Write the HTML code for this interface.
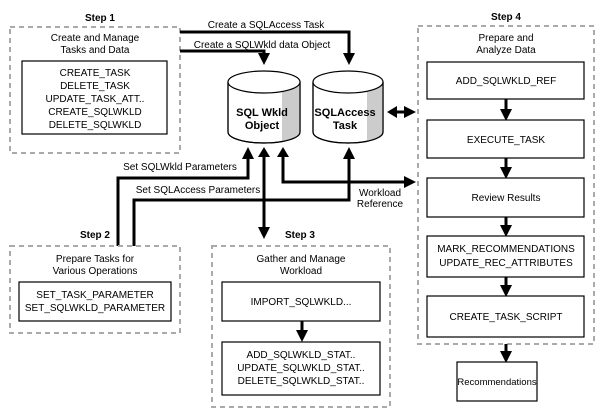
<!DOCTYPE html>
<html><head><meta charset="utf-8"><style>
html,body{margin:0;padding:0;background:#fff}
svg{display:block}
text{font-family:"Liberation Sans",sans-serif;font-size:10px;fill:#000}
.b{font-weight:bold}
.d{fill:none;stroke:#aaa;stroke-width:2;stroke-dasharray:5,4}
.r{fill:#fff;stroke:#000;stroke-width:1.2}
.l{fill:none;stroke:#000;stroke-width:3}
</style></head><body>
<svg width="604" height="410" viewBox="0 0 604 410">
<defs><marker id="a" markerWidth="4" markerHeight="4" refX="3" refY="2" orient="auto" markerUnits="strokeWidth"><path d="M0,0 L4,2 L0,4 z" fill="#000"/></marker></defs>
<!-- Step 1 -->
<text x="100" y="21" class="b" text-anchor="middle">Step 1</text>
<rect class="d" x="10" y="27" width="170" height="126"/>
<text x="95" y="41" text-anchor="middle">Create and Manage</text>
<text x="95" y="53" text-anchor="middle">Tasks and Data</text>
<rect class="r" x="22" y="61" width="145" height="73"/>
<text x="95" y="76" text-anchor="middle">CREATE_TASK</text>
<text x="95" y="89" text-anchor="middle">DELETE_TASK</text>
<text x="95" y="102" text-anchor="middle">UPDATE_TASK_ATT..</text>
<text x="95" y="115" text-anchor="middle">CREATE_SQLWKLD</text>
<text x="95" y="128" text-anchor="middle">DELETE_SQLWKLD</text>
<!-- top connectors -->
<polyline class="l" points="180,32 349,32 349,62" marker-end="url(#a)"/>
<polyline class="l" points="180,51 264,51 264,62" marker-end="url(#a)"/>
<text x="266" y="28" text-anchor="middle">Create a SQLAccess Task</text>
<text x="262" y="48" text-anchor="middle">Create a SQLWkld data Object</text>
<!-- cylinders -->
<g>
<path d="M228,82 L228,132 A36,11 0 0 0 300,132 L300,82" fill="#fff" stroke="#000" stroke-width="1.2"/>
<path d="M282,91 L282,142 A36,11 0 0 0 299,135 L299,84 A36,11 0 0 1 282,91z" fill="#ccc"/>
<path d="M228,82 L228,132 A36,11 0 0 0 300,132 L300,82" fill="none" stroke="#000" stroke-width="1.2"/>
<ellipse cx="264" cy="82" rx="36" ry="11" fill="#fff" stroke="#000" stroke-width="1.2"/>
<text x="262" y="116" class="b" text-anchor="middle" style="font-size:11px">SQL Wkld</text>
<text x="262" y="129" class="b" text-anchor="middle" style="font-size:11px">Object</text>
</g>
<g>
<path d="M313,82 L313,132 A35,11 0 0 0 383,132 L383,82" fill="#fff" stroke="#000" stroke-width="1.2"/>
<path d="M367,91 L367,142 A35,11 0 0 0 382,135 L382,84 A35,11 0 0 1 367,91z" fill="#ccc"/>
<path d="M313,82 L313,132 A35,11 0 0 0 383,132 L383,82" fill="none" stroke="#000" stroke-width="1.2"/>
<ellipse cx="348" cy="82" rx="35" ry="11" fill="#fff" stroke="#000" stroke-width="1.2"/>
<text x="345" y="116" class="b" text-anchor="middle" style="font-size:11px">SQLAccess</text>
<text x="345" y="129" class="b" text-anchor="middle" style="font-size:11px">Task</text>
</g>
<line class="l" x1="393" y1="112" x2="413" y2="112" marker-end="url(#a)"/>
<path d="M387,112 l10,-6 v12z" fill="#000"/>
<!-- lower connectors -->
<polyline class="l" points="118,246 118,178 248,178 248,150" marker-end="url(#a)"/>
<text x="180" y="170" text-anchor="middle">Set SQLWkld Parameters</text>
<polyline class="l" points="134,246 134,200 349,200 349,150" marker-end="url(#a)"/>
<text x="198" y="193" text-anchor="middle">Set SQLAccess Parameters</text>
<line class="l" x1="264" y1="155" x2="264" y2="236" marker-end="url(#a)"/>
<path d="M264,147 l-6,10 h12z" fill="#000"/>
<polyline class="l" points="283,155 283,182 413,182" marker-end="url(#a)"/>
<path d="M283,147 l-6,10 h12z" fill="#000"/>
<text x="380" y="196" text-anchor="middle">Workload</text>
<text x="380" y="207" text-anchor="middle">Reference</text>
<!-- Step 2 -->
<text x="95" y="238" class="b" text-anchor="middle">Step 2</text>
<rect class="d" x="10" y="246" width="170" height="87"/>
<text x="95" y="262" text-anchor="middle">Prepare Tasks for</text>
<text x="95" y="274" text-anchor="middle">Various Operations</text>
<rect class="r" x="19" y="282" width="152" height="39"/>
<text x="95" y="298" text-anchor="middle">SET_TASK_PARAMETER</text>
<text x="95" y="311" text-anchor="middle">SET_SQLWKLD_PARAMETER</text>
<!-- Step 3 -->
<text x="300" y="238" class="b" text-anchor="middle">Step 3</text>
<rect class="d" x="212" y="246" width="178" height="161"/>
<text x="301" y="262" text-anchor="middle">Gather and Manage</text>
<text x="301" y="274" text-anchor="middle">Workload</text>
<rect class="r" x="222" y="282" width="158" height="39"/>
<text x="301" y="305" text-anchor="middle">IMPORT_SQLWKLD...</text>
<line class="l" x1="302" y1="321" x2="302" y2="339" marker-end="url(#a)"/>
<rect class="r" x="222" y="342" width="158" height="53"/>
<text x="301" y="358" text-anchor="middle">ADD_SQLWKLD_STAT..</text>
<text x="301" y="371" text-anchor="middle">UPDATE_SQLWKLD_STAT..</text>
<text x="301" y="384" text-anchor="middle">DELETE_SQLWKLD_STAT..</text>
<!-- Step 4 -->
<text x="506" y="20" class="b" text-anchor="middle">Step 4</text>
<rect class="d" x="418" y="26" width="176" height="318"/>
<text x="506" y="41" text-anchor="middle">Prepare and</text>
<text x="506" y="53" text-anchor="middle">Analyze Data</text>
<rect class="r" x="427" y="62" width="157" height="37"/>
<text x="506" y="84" text-anchor="middle">ADD_SQLWKLD_REF</text>
<line class="l" x1="506" y1="99" x2="506" y2="118" marker-end="url(#a)"/>
<rect class="r" x="427" y="120" width="157" height="38"/>
<text x="506" y="143" text-anchor="middle">EXECUTE_TASK</text>
<line class="l" x1="506" y1="158" x2="506" y2="176" marker-end="url(#a)"/>
<rect class="r" x="427" y="178" width="157" height="39"/>
<text x="506" y="201" text-anchor="middle">Review Results</text>
<line class="l" x1="506" y1="217" x2="506" y2="234" marker-end="url(#a)"/>
<rect class="r" x="427" y="236" width="157" height="41"/>
<text x="506" y="252" text-anchor="middle">MARK_RECOMMENDATIONS</text>
<text x="506" y="266" text-anchor="middle">UPDATE_REC_ATTRIBUTES</text>
<line class="l" x1="506" y1="277" x2="506" y2="294" marker-end="url(#a)"/>
<rect class="r" x="427" y="296" width="157" height="41"/>
<text x="506" y="320" text-anchor="middle">CREATE_TASK_SCRIPT</text>
<line class="l" x1="506" y1="344" x2="506" y2="360" marker-end="url(#a)"/>
<rect class="r" x="457" y="362" width="80" height="39"/>
<text x="497" y="385" text-anchor="middle" style="font-size:9.5px">Recommendations</text>
</svg>
</body></html>
